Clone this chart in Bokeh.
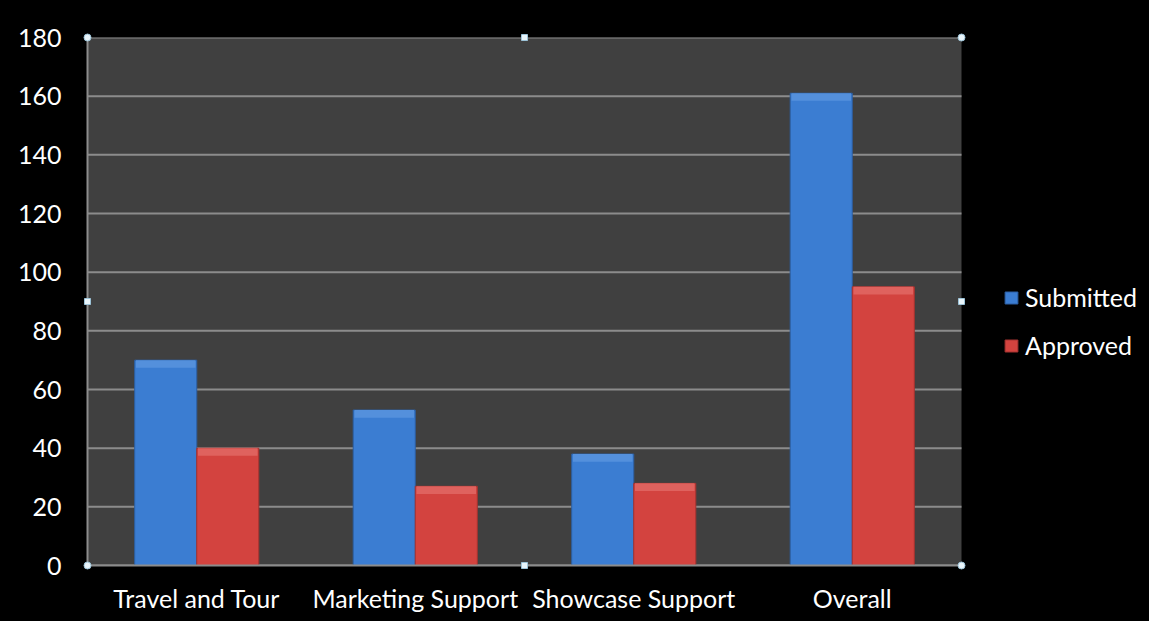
from bokeh.plotting import figure
from bokeh.models import (Range1d, FixedTicker, Legend, LegendItem,
                          ColumnDataSource, BoxAnnotation)
from bokeh.embed import file_html
from bokeh.resources import INLINE

categories = ["Travel and Tour", "Marketing Support", "Showcase Support", "Overall"]
submitted = [70, 53, 38, 161]
approved = [40, 27, 28, 95]
y_ticks = [0, 20, 40, 60, 80, 100, 120, 140, 160, 180]
series_names = ["Submitted", "Approved"]

BLUE = "#3b7dd2"
BLUE_TOP = "#5490dc"
RED = "#d3433f"
RED_TOP = "#df625e"
BLUE_EDGE = "#2c5fa3"
RED_EDGE = "#a53230"
GRID = "#8c8c8c"
BAR_W = 0.284
FONT = "Lato"
FS = "25px"
BEVEL = 2.6  # thickness of lighter top band, in value units

# layout (pixels)
W, H = 1149, 621
LEFT, TOP, BOTTOM = 87, 37, 56
PLOT_PX = 874          # width of the grey plot area
FRAME_PX = W - LEFT    # frame also covers the legend area

n = len(categories)
y_max = y_ticks[-1]
x_max = n * FRAME_PX / PLOT_PX
centers = [i + 0.5 for i in range(n)]

p = figure(width=W, height=H, output_backend="svg", toolbar_location=None,
           x_range=Range1d(0, x_max), y_range=Range1d(0, y_max),
           background_fill_color="#000000", border_fill_color="#000000",
           min_border_left=LEFT, min_border_right=0, min_border_top=TOP,
           min_border_bottom=BOTTOM)
p.outline_line_color = None
p.styles = {"background-color": "#000000"}

# grey plot area
p.add_layout(BoxAnnotation(left=0, right=n, bottom=0, top=y_max,
                           fill_color="#404040", fill_alpha=1,
                           line_color=None, level="underlay"))
# horizontal gridlines limited to the plot area
p.segment(x0=[0] * len(y_ticks), x1=[n] * len(y_ticks), y0=y_ticks, y1=y_ticks,
          line_color=GRID, line_width=2)
p.xgrid.grid_line_color = None
p.ygrid.grid_line_color = None

xs_s = [c - BAR_W / 2 for c in centers]
xs_a = [c + BAR_W / 2 for c in centers]
src_s = ColumnDataSource(dict(x=xs_s, top=submitted,
                              b2=[v - BEVEL for v in submitted]))
src_a = ColumnDataSource(dict(x=xs_a, top=approved,
                              b2=[v - BEVEL for v in approved]))
r1 = p.vbar(x="x", top="top", width=BAR_W, source=src_s, fill_color=BLUE,
            line_color=BLUE_EDGE, line_width=1)
r2 = p.vbar(x="x", top="top", width=BAR_W, source=src_a, fill_color=RED,
            line_color=RED_EDGE, line_width=1)
# lighter bevel at the top of each bar
p.vbar(x="x", top="top", bottom="b2", width=BAR_W * 0.96, source=src_s,
       fill_color=BLUE_TOP, line_color=None)
p.vbar(x="x", top="top", bottom="b2", width=BAR_W * 0.96, source=src_a,
       fill_color=RED_TOP, line_color=None)

# axes
p.xaxis.ticker = FixedTicker(ticks=centers)
p.xaxis.major_label_overrides = {c: lab for c, lab in zip(centers, categories)}
p.xaxis.bounds = (0, n)
p.yaxis.ticker = FixedTicker(ticks=y_ticks)
for ax in (p.xaxis[0], p.yaxis[0]):
    ax.axis_line_color = GRID
    ax.axis_line_width = 2
    ax.major_tick_line_color = None
    ax.minor_tick_line_color = None
    ax.major_label_text_color = "#ffffff"
    ax.major_label_text_font = FONT
    ax.major_label_text_font_size = FS
p.xaxis.major_label_standoff = 11
p.yaxis.major_label_standoff = 20

# selection handles on plot-area border
p.scatter([0, n, 0, n], [0, 0, y_max, y_max], marker="circle", size=7,
          fill_color="#e8f4fa", line_color="#9cc3d8", level="overlay")
p.scatter([n / 2, n / 2, 0, n], [0, y_max, y_max / 2, y_max / 2],
          marker="square", size=6,
          fill_color="#e8f4fa", line_color="#9cc3d8", level="overlay")

legend = Legend(items=[LegendItem(label=series_names[0], renderers=[r1]),
                       LegendItem(label=series_names[1], renderers=[r2])],
                location=(916, 205), orientation="vertical")
legend.background_fill_alpha = 0
legend.border_line_color = None
legend.label_text_color = "#ffffff"
legend.label_text_font = FONT
legend.label_text_font_size = FS
legend.glyph_width = 16
legend.glyph_height = 15
legend.label_height = 30
legend.label_standoff = 6
legend.spacing = 18
legend.padding = 0
legend.margin = 0
p.add_layout(legend, "center")

open("out.html", "w").write(file_html(p, INLINE))
